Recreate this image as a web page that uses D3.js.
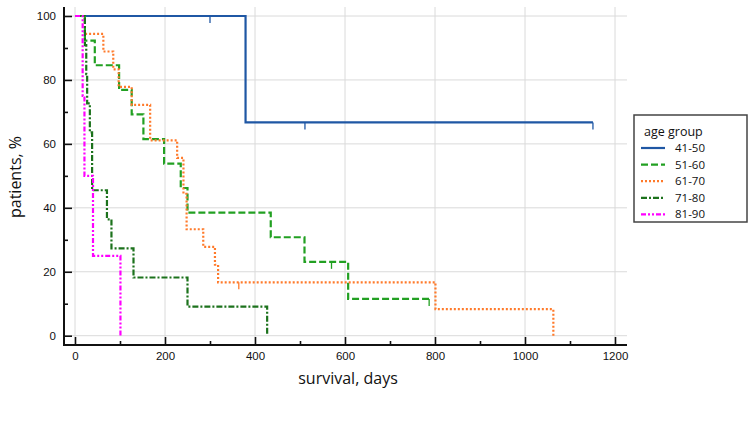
<!DOCTYPE html>
<html>
<head>
<meta charset="utf-8">
<script src="https://cdn.jsdelivr.net/npm/d3@7"></script>
<style>
  body{margin:0;background:#fff}
  svg{display:block}
  .tick text{font-family:"Liberation Sans",Arial,sans-serif;font-size:11.5px;fill:#111}
</style>
</head>
<body>
<div id="chart"></div>
<script>
// Kaplan-Meier survival by age group
const groups = ['41-50','51-60','61-70','71-80','81-90']

// event times (days) and survival after each event (%); last point = end of follow-up
const t4150 = [0, 379, 1151]
const s4150 = [100, 66.7, 66.7]
const c4150 = [300, 511, 1151]

const t5160 = [0, 22, 44, 98, 126, 152, 198, 235, 250, 435, 510, 607, 787]
const s5160 = [100, 92.3, 84.6, 76.9, 69.2, 61.5, 53.8, 46.2, 38.5, 30.8, 23.1, 11.5, 11.5]
const c5160 = [570, 787]

const t6170 = [0, 22, 63, 85, 97, 126, 167, 227, 241, 248, 285, 311, 318, 801, 1063]
const s6170 = [100, 94.4, 88.9, 83.3, 77.8, 72.2, 61.1, 55.6, 44.4, 33.3, 27.8, 22.2, 16.7, 8.3, 0]
const c6170 = [364]

const t7180 = [0, 22, 25, 27, 33, 38, 71, 81, 130, 250, 427]
const s7180 = [100, 90.9, 81.8, 72.7, 63.6, 45.5, 36.4, 27.3, 18.2, 9.1, 0]
const c7180 = []

const t8190 = [0, 17, 21, 40, 101]
const s8190 = [100, 75, 50, 25, 0]
const c8190 = []

const xTicks = [0, 200, 400, 600, 800, 1000, 1200]
const xMinor = [100, 300, 500, 700, 900, 1100]
const yTicks = [0, 20, 40, 60, 80, 100]
const yMinor = [10, 30, 50, 70, 90]

const series = [
  {name: groups[0], t: t4150, s: s4150, c: c4150, color: '#1f57a4', dash: null},
  {name: groups[1], t: t5160, s: s5160, c: c5160, color: '#22a022', dash: '7,3'},
  {name: groups[2], t: t6170, s: s6170, c: c6170, color: '#ff7a2a', dash: '2,2'},
  {name: groups[3], t: t7180, s: s7180, c: c7180, color: '#1c721c', dash: '6,2,2,2'},
  {name: groups[4], t: t8190, s: s8190, c: c8190, color: '#ff00ff', dash: '5,2,2,2,2,2'}
]

const W = 750, H = 422
const svg = d3.select('#chart').append('svg').attr('width', W).attr('height', H)

const x = d3.scaleLinear().domain([0, 1200]).range([75, 615])
const y = d3.scaleLinear().domain([0, 100]).range([335.7, 16])
const axL = 64, axR = 627, axB = 345, axT = 7

// grid
const grid = svg.append('g').attr('stroke', '#dadada').attr('stroke-width', 1)
grid.selectAll('.gx').data(xTicks).enter().append('line')
  .attr('x1', d => x(d)).attr('x2', d => x(d)).attr('y1', axT).attr('y2', axB)
grid.selectAll('.gy').data(yTicks).enter().append('line')
  .attr('x1', axL).attr('x2', axR).attr('y1', d => y(d)).attr('y2', d => y(d))

// axes (ticks inward, domain drawn by hand)
const fmt = d3.format('d')
const gx = svg.append('g').attr('transform', `translate(0,${axB})`)
  .call(d3.axisBottom(x).tickValues(xTicks).tickFormat(fmt).tickSizeInner(-8).tickSizeOuter(0).tickPadding(7))
const gxm = svg.append('g').attr('transform', `translate(0,${axB})`)
  .call(d3.axisBottom(x).tickValues(xMinor).tickSizeInner(-4).tickSizeOuter(0).tickFormat(''))
const gy = svg.append('g').attr('transform', `translate(${axL},0)`)
  .call(d3.axisLeft(y).tickValues(yTicks).tickFormat(fmt).tickSizeInner(-8).tickSizeOuter(0).tickPadding(8))
const gym = svg.append('g').attr('transform', `translate(${axL},0)`)
  .call(d3.axisLeft(y).tickValues(yMinor).tickSizeInner(-4).tickSizeOuter(0).tickFormat(''))
;[gx, gxm, gy, gym].forEach(g => {
  g.select('.domain').remove()
  g.selectAll('.tick line').attr('stroke', '#111').attr('stroke-width', 1.6)
})
svg.append('path').attr('d', `M${axL},${axT}V${axB}H${axR}`)
  .attr('fill', 'none').attr('stroke', '#111').attr('stroke-width', 2)

// curves
const line = d3.line().x(d => x(d[0])).y(d => y(d[1])).curve(d3.curveStepAfter)
const survAt = (sr, t) => sr.s[Math.max(0, d3.bisectRight(sr.t, t) - 1)]

series.forEach(sr => {
  const pts = sr.t.map((t, i) => [t, sr.s[i]])
  svg.append('path').datum(pts).attr('d', line)
    .attr('fill', 'none').attr('stroke', sr.color).attr('stroke-width', 2.2)
    .attr('stroke-dasharray', sr.dash)
  svg.selectAll(null).data(sr.c).enter().append('line')
    .attr('x1', d => x(d)).attr('x2', d => x(d))
    .attr('y1', d => y(survAt(sr, d))).attr('y2', d => y(survAt(sr, d)) + 7)
    .attr('stroke', sr.color).attr('stroke-width', 1.3)
})

// axis titles
svg.append('text').attr('x', 348).attr('y', 384).attr('text-anchor', 'middle')
  .attr('font-family', '"Open Sans",sans-serif').attr('font-size', 16).attr('fill', '#111')
  .text('survival, days')
svg.append('text').attr('transform', 'translate(21,177) rotate(-90)').attr('text-anchor', 'middle')
  .attr('font-family', '"Open Sans",sans-serif').attr('font-size', 16).attr('fill', '#111')
  .text('patients, %')

// legend
const lg = svg.append('g')
lg.append('rect').attr('x', 634).attr('y', 115).attr('width', 113).attr('height', 107)
  .attr('fill', '#fff').attr('stroke', '#444').attr('stroke-width', 1.5)
lg.append('text').attr('x', 644).attr('y', 136)
  .attr('font-family', '"Open Sans",sans-serif').attr('font-size', 12.5).attr('fill', '#111')
  .text('age group')
const item = lg.selectAll('.item').data(series).enter().append('g')
  .attr('transform', (d, i) => `translate(0,${148 + i * 16.6})`)
item.append('line').attr('x1', 641).attr('x2', 665).attr('y1', 0).attr('y2', 0)
  .attr('stroke', d => d.color).attr('stroke-width', 2.2).attr('stroke-dasharray', d => d.dash)
item.append('text').attr('x', 675).attr('y', 4)
  .attr('font-family', '"Open Sans",sans-serif').attr('font-size', 11.5).attr('fill', '#111')
  .text(d => d.name)
</script>
</body>
</html>
